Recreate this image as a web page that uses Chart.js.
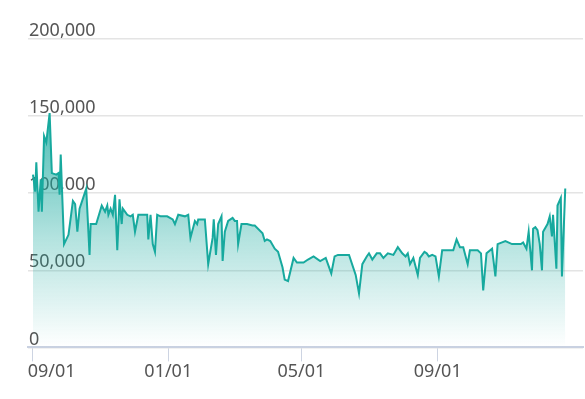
<!DOCTYPE html>
<html>
<head>
<meta charset="utf-8">
<script src="https://cdn.jsdelivr.net/npm/chart.js@4"></script>
<style>
  html, body { margin: 0; padding: 0; background: #fff; }
  #wrap { width: 585px; height: 399px; }
</style>
</head>
<body>
<div id="wrap"><canvas id="areaChart"></canvas></div>
<script>
// Days counted from the first 09/01, and the value on that day
const days = [
    0, 2, 3, 5, 7, 8, 10, 12, 15, 17, 21, 23, 24, 25, 28, 32, 36, 38, 40, 42,
    48, 51, 52, 57, 62, 65, 67, 68, 70, 72, 74, 76, 78, 80, 81, 85, 88, 90, 92, 95,
    98, 103, 104, 106, 108, 110, 112, 115, 121, 126, 128, 131, 137, 140, 142, 146, 148, 149, 155, 158,
    162, 163, 165, 167, 170, 171, 173, 176, 180, 182, 184, 185, 188, 193, 198, 200, 207, 209, 211, 214,
    218, 221, 225, 227, 230, 235, 238, 244, 248, 253, 259, 264, 269, 272, 275, 285, 291, 294, 297, 301,
    303, 306, 310, 313, 316, 320, 325, 329, 333, 336, 338, 340, 343, 347, 349, 353, 355, 357, 360, 363,
    366, 369, 374, 379, 382, 385, 388, 392, 394, 397, 401, 404, 406, 409, 414, 417, 419, 426, 432, 440,
    442, 445, 447, 450, 451, 453, 455, 457, 459, 460, 464, 466, 468, 469, 472, 473, 476, 477, 480
];
const values = [
    112000, 101000, 120000, 88000, 109000, 88000, 137000, 133000, 152000, 113000, 112000, 113000, 99000, 125000, 67000, 73000, 95000, 93000, 75000, 90000,
    103000, 60000, 80000, 80000, 92000, 88000, 92000, 86000, 90000, 86000, 99000, 63000, 96000, 80000, 90000, 86000, 85000, 86000, 75000, 86000,
    86000, 86000, 70000, 86000, 67000, 62000, 86000, 85000, 85000, 83000, 80000, 86000, 85000, 86000, 71000, 82000, 80000, 83000, 83000, 54000,
    71000, 83000, 60000, 80000, 85000, 56000, 75000, 82000, 84000, 82000, 82000, 67000, 80000, 80000, 79000, 79000, 74000, 69000, 70000, 69000,
    64000, 62000, 52000, 44000, 43000, 58000, 55000, 55000, 57000, 59000, 56000, 58000, 48000, 59000, 60000, 60000, 47000, 35000, 54000, 59000,
    61000, 57000, 61000, 61000, 58000, 61000, 60000, 65000, 61000, 59000, 61000, 54000, 58000, 47000, 58000, 62000, 61000, 59000, 60000, 59000,
    46000, 63000, 63000, 63000, 70000, 65000, 65000, 54000, 63000, 63000, 63000, 61000, 37000, 61000, 64000, 46000, 67000, 69000, 67000, 67000,
    68000, 64000, 75000, 50000, 77000, 78000, 76000, 67000, 50000, 75000, 80000, 85000, 72000, 86000, 51000, 92000, 97000, 46000, 103000
];

const tickDays = [0, 122, 242, 365];
const tickLabels = ['09/01', '01/01', '05/01', '09/01'];
const yTicks = [0, 50000, 100000, 150000, 200000];

const lineColor = '#17a99e';

function areaGradient(context) {
    const area = context.chart.chartArea;
    if (!area) return 'rgba(23, 169, 158, 0.4)';
    const g = context.chart.ctx.createLinearGradient(0, area.top + 70, 0, area.bottom);
    g.addColorStop(0, 'rgba(23, 169, 158, 0.78)');
    g.addColorStop(0.55, 'rgba(23, 169, 158, 0.32)');
    g.addColorStop(1, 'rgba(23, 169, 158, 0.0)');
    return g;
}

const config = {
    type: 'line',
    data: {
        datasets: [{
            data: days.map((d, i) => ({ x: d, y: values[i] })),
            borderColor: lineColor,
            borderWidth: 2,
            backgroundColor: areaGradient,
            fill: 'origin',
            pointRadius: 0,
            tension: 0
        }]
    },
    options: {
        responsive: true,
        maintainAspectRatio: false,
        animation: false,
        layout: { padding: { left: 28, right: 2, top: 39, bottom: 16 } },
        plugins: { legend: { display: false }, tooltip: { enabled: false } },
        scales: {
            x: {
                type: 'linear',
                min: -4.5,
                max: 496,
                afterBuildTicks: (scale) => { scale.ticks = tickDays.map(v => ({ value: v })); },
                afterFit: (scale) => { scale.paddingLeft = 0; scale.paddingRight = 0; },
                grid: { drawOnChartArea: false, drawTicks: true, tickLength: 14, color: '#cdd4e2', lineWidth: 1 },
                border: { display: true, color: '#c9d1e1', width: 2 },
                ticks: {
                    autoSkip: false,
                    maxRotation: 0,
                    padding: 0,
                    color: '#555',
                    font: { family: 'Noto Sans', size: 18 },
                    callback: (value, index) => (index === 0 ? '        ' : '') + tickLabels[index]
                }
            },
            y: {
                min: 0,
                max: 200000,
                afterBuildTicks: (scale) => { scale.ticks = yTicks.map(v => ({ value: v })); },
                afterFit: (scale) => { scale.width = 0; },
                grid: { drawTicks: false, color: '#e4e4e4', lineWidth: 1.5 },
                border: { display: false },
                ticks: {
                    mirror: true,
                    padding: 1,
                    labelOffset: -8,
                    color: '#555',
                    font: { family: 'Noto Sans', size: 18 },
                    callback: (value) => value.toLocaleString('en-US')
                }
            }
        }
    }
};

new Chart(document.getElementById('areaChart'), config);
</script>
</body>
</html>
